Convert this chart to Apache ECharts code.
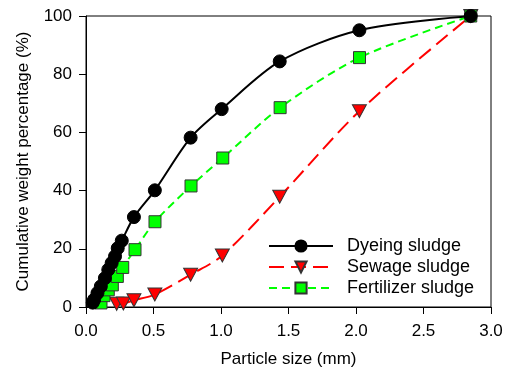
<!DOCTYPE html>
<html>
<head>
<meta charset="utf-8">
<script src="https://cdn.jsdelivr.net/npm/echarts@6/dist/echarts.min.js"></script>
<style>
  html, body { margin: 0; padding: 0; background: #fff; }
  #chart { width: 510px; height: 369px; }
</style>
</head>
<body>
<div id="chart"></div>
<script>
// 数据 -- 读自原图
const dyeingX = [0.05, 0.06, 0.085, 0.11, 0.14, 0.165, 0.19, 0.215, 0.235, 0.265, 0.355, 0.51, 0.775, 1.005, 1.435, 2.025, 2.85];
const dyeingY = [1.5, 2.5, 4.8, 7.1, 9.9, 12.8, 15.1, 17.4, 20.2, 22.8, 30.9, 40.1, 58.2, 68.0, 84.4, 95.1, 100];
const sewageX = [0.227, 0.277, 0.355, 0.51, 0.775, 1.01, 1.435, 2.025, 2.85];
const sewageY = [1.1, 1.2, 2.3, 4.3, 11.1, 17.7, 37.9, 67.3, 100];
const fertX = [0.111, 0.133, 0.165, 0.195, 0.232, 0.272, 0.363, 0.511, 0.778, 1.013, 1.438, 2.026, 2.85];
const fertY = [1.4, 3.9, 5.9, 7.6, 10.5, 13.6, 19.7, 29.3, 41.6, 51.2, 68.5, 85.7, 100];
const seriesNames = ['Dyeing sludge', 'Sewage sludge', 'Fertilizer sludge'];

const zip = (xs, ys) => xs.map((x, i) => [x, ys[i]]);
const font = 'Liberation Sans, Arial, sans-serif';

let myChart = echarts.init(document.getElementById('chart'));
var option = {
  animation: false,
  textStyle: { fontFamily: font, color: '#000' },
  grid: {
    left: 86, right: 19, top: 16, bottom: 62,
    outerBoundsMode: 'none', containLabel: false,
    show: true, borderColor: '#000', borderWidth: 1
  },
  legend: {
    orient: 'vertical',
    left: 268, top: 237, padding: 0,
    itemWidth: 64, itemHeight: 14, itemGap: 3,
    textStyle: { fontFamily: font, fontSize: 18, color: '#000', padding: [0, 0, 0, 9] },
    data: seriesNames
  },
  xAxis: {
    type: 'value', min: 0, max: 3, interval: 0.5,
    name: 'Particle size (mm)', nameLocation: 'middle', nameGap: 44,
    nameTextStyle: { fontFamily: font, fontSize: 17, color: '#000' },
    axisLine: { lineStyle: { color: '#000', width: 1 } },
    axisTick: { inside: false, length: 7, lineStyle: { color: '#000' } },
    axisLabel: { margin: 16, fontSize: 17, color: '#000', formatter: v => v.toFixed(1) },
    splitLine: { show: false }
  },
  yAxis: {
    type: 'value', min: 0, max: 100, interval: 20,
    name: 'Cumulative weight percentage (%)', nameLocation: 'middle', nameGap: 54,
    nameTextStyle: { fontFamily: font, fontSize: 17, color: '#000' },
    axisLine: { show: true, lineStyle: { color: '#000', width: 1 } },
    axisTick: { show: true, inside: false, length: 7, lineStyle: { color: '#000' } },
    axisLabel: { margin: 14, fontSize: 17, color: '#000' },
    splitLine: { show: false }
  },
  series: [
    {
      name: seriesNames[0], type: 'line', smooth: 0.3,
      data: zip(dyeingX, dyeingY),
      symbol: 'circle', symbolSize: 13,
      itemStyle: { color: '#000', borderColor: '#000', borderWidth: 1 },
      lineStyle: { color: '#000', width: 2 },
      z: 4
    },
    {
      name: seriesNames[1], type: 'line', smooth: 0.3,
      data: zip(sewageX, sewageY),
      symbol: 'triangle', symbolRotate: 180, symbolSize: [14, 13],
      itemStyle: { color: '#ff0000', borderColor: '#333', borderWidth: 1 },
      lineStyle: { color: '#ff0000', width: 2, type: [15, 7] },
      z: 2
    },
    {
      name: seriesNames[2], type: 'line', smooth: 0.3,
      data: zip(fertX, fertY),
      symbol: 'rect', symbolSize: 12,
      itemStyle: { color: '#00ff00', borderColor: '#333', borderWidth: 1 },
      lineStyle: { color: '#00ff00', width: 2, type: [8, 5] },
      z: 3
    }
  ]
};
myChart.setOption(option);
</script>
</body>
</html>
